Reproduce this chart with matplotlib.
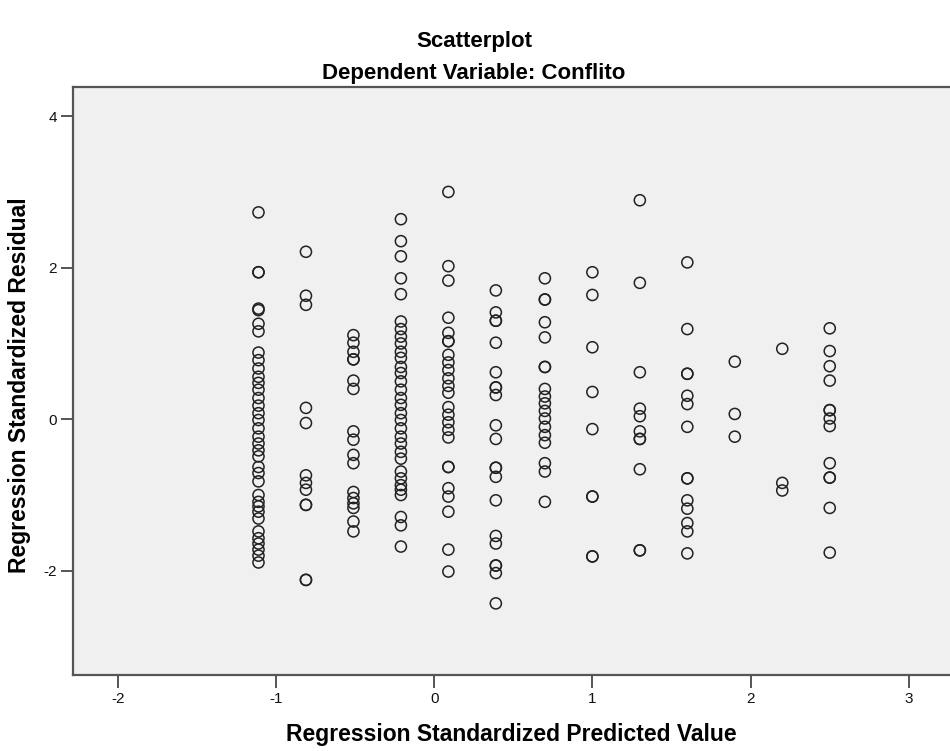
import matplotlib
matplotlib.use("Agg")
import matplotlib.pyplot as plt
import numpy as np

plt.rcParams['font.family'] = ['Liberation Sans', 'DejaVu Sans']

# Predicted value levels (x) of the vertical columns
pred_levels = [-1.11, -0.81, -0.51, -0.21, 0.09, 0.39, 0.70, 1.00, 1.30, 1.60, 1.90, 2.20, 2.50]

res_m111 = [2.73, 1.94, 1.94, 1.46, 1.44, 1.26, 1.16,
            0.88, 0.78, 0.67, 0.56, 0.48, 0.39, 0.28, 0.18, 0.08, -0.01,
            -0.12, -0.23, -0.32, -0.41, -0.49, -0.63, -0.71, -0.82,
            -1.00, -1.09, -1.15, -1.22, -1.31,
            -1.48, -1.57, -1.64, -1.72, -1.80, -1.89]
res_m081 = [2.21, 1.63, 1.51, 0.15, -0.05, -0.74, -0.84, -0.93, -1.13, -1.13, -2.12, -2.12]
res_m051 = [1.11, 1.01, 0.89, 0.79, 0.79, 0.51, 0.40, -0.16, -0.27, -0.47, -0.58,
            -0.96, -1.04, -1.11, -1.17, -1.35, -1.48]
res_m021 = [2.64, 2.35, 2.15, 1.86, 1.65,
            1.29, 1.19, 1.09, 1.00, 0.89, 0.81, 0.69, 0.61, 0.50, 0.39, 0.28, 0.19,
            0.08, -0.01, -0.12, -0.23, -0.32, -0.43, -0.52,
            -0.69, -0.78, -0.87, -0.93, -1.00, -1.29, -1.40, -1.68]
res_p009 = [3.00, 2.02, 1.83, 1.34, 1.14, 1.03, 1.03, 0.85, 0.75, 0.65, 0.54, 0.44, 0.35,
            0.16, 0.06, -0.04, -0.14, -0.24, -0.63, -0.63, -0.91, -1.02, -1.22, -1.72, -2.01]
res_p039 = [1.70, 1.41, 1.30, 1.30, 1.01, 0.62, 0.42, 0.42, 0.32, -0.08, -0.26,
            -0.64, -0.64, -0.76, -1.07, -1.54, -1.64, -1.93, -1.93, -2.03, -2.43]
res_p070 = [1.86, 1.58, 1.58, 1.28, 1.08, 0.69, 0.69, 0.40, 0.30, 0.21, 0.11, 0.01,
            -0.10, -0.21, -0.31, -0.58, -0.69, -1.09]
res_p100 = [1.94, 1.64, 0.95, 0.36, -0.13, -1.02, -1.02, -1.81, -1.81]
res_p130 = [2.89, 1.80, 0.62, 0.14, 0.04, -0.16, -0.26, -0.26, -0.66, -1.73, -1.73]
res_p160 = [2.07, 1.19, 0.60, 0.60, 0.31, 0.20, -0.10, -0.78, -0.78, -1.07, -1.18,
            -1.37, -1.48, -1.77]
res_p190 = [0.76, 0.07, -0.23]
res_p220 = [0.93, -0.84, -0.94]
res_p250 = [1.20, 0.90, 0.70, 0.51, 0.12, 0.12, 0.01, -0.09, -0.58, -0.77, -0.77, -1.17, -1.76]

residual_columns = [res_m111, res_m081, res_m051, res_m021, res_p009, res_p039, res_p070,
                    res_p100, res_p130, res_p160, res_p190, res_p220, res_p250]

x_ticks = [-2, -1, 0, 1, 2, 3]
y_ticks = [-2, 0, 2, 4]

title1 = "Scatterplot"
title2 = "Dependent Variable: Conflito"
xlabel = "Regression Standardized Predicted Value"
ylabel = "Regression Standardized Residual"

xs = np.concatenate([[p] * len(c) for p, c in zip(pred_levels, residual_columns)])
ys = np.concatenate([np.array(c, dtype=float) for c in residual_columns])

fig = plt.figure(figsize=(9.5, 7.51), dpi=100)
ax = fig.add_axes([0.0772, 0.1012, 0.9228, 0.7825])
ax.set_facecolor('#F0F0F0')

ax.scatter(xs, ys, s=64, facecolors='none', edgecolors='#222222', linewidths=1.1, zorder=3)

ax.set_xlim(-2.28, 3.26)
ax.set_ylim(-3.375, 4.38)
ax.set_xticks(x_ticks)
ax.set_yticks(y_ticks)
ax.set_xticklabels([str(t) for t in x_ticks])
ax.set_yticklabels([str(t) for t in y_ticks])

for side in ['left', 'bottom', 'top']:
    ax.spines[side].set_color('#555555')
    ax.spines[side].set_linewidth(1.6)
ax.spines['right'].set_visible(False)

ax.tick_params(axis='both', direction='out', length=9, width=1.4, color='#555555',
               labelsize=11, labelcolor='#111111', pad=3)

title_size = 16
label_size = 16.5
fig.text(474 / 950, 1 - 41 / 751, title1, ha='center', va='center', fontsize=title_size, fontweight='bold')
fig.text(474 / 950, 1 - 74 / 751, title2, ha='center', va='center', fontsize=title_size, fontweight='bold')
fig.text(511 / 950, 1 - 735 / 751, xlabel, ha='center', va='center', fontsize=label_size, fontweight='bold')
fig.text(20 / 950, 1 - 385 / 751, ylabel, ha='center', va='center', rotation=90,
         fontsize=label_size, fontweight='bold')

fig.savefig('out.png', dpi=100)
